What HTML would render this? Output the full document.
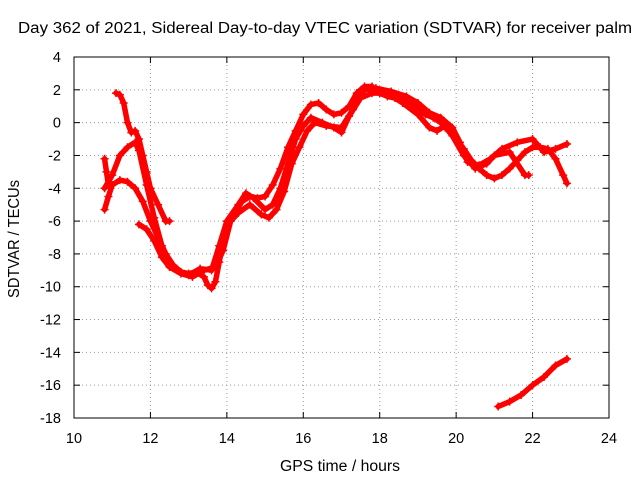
<!DOCTYPE html>
<html><head><meta charset="utf-8"><style>
body{margin:0;background:#fff}
svg text{font-family:"Liberation Sans",sans-serif;font-size:14.5px;fill:#000}
</style></head><body>
<svg width="640" height="480" xmlns="http://www.w3.org/2000/svg">
<rect width="640" height="480" fill="#fff"/>
<g id="grid"></g>
<g id="ticks"></g>
<g id="series"></g>
<rect x="74" y="57" width="535" height="361" fill="none" stroke="#000"/>
<text x="18" y="33" textLength="614" lengthAdjust="spacingAndGlyphs" style="font-size:15.5px">Day 362 of 2021, Sidereal Day-to-day VTEC variation (SDTVAR) for receiver palm</text>
<text x="280" y="471" textLength="120" lengthAdjust="spacingAndGlyphs" style="font-size:15.5px">GPS time / hours</text>
<text x="0" y="0" textLength="118" lengthAdjust="spacingAndGlyphs" style="font-size:15.5px" transform="translate(19 298) rotate(-90)">SDTVAR / TECUs</text>
</svg>
<script>
const xTicks=[10,12,14,16,18,20,22,24];
const yTicks=[4,2,0,-2,-4,-6,-8,-10,-12,-14,-16,-18];
const s1x=[10.8,10.9,11.0,11.2,11.4,11.6,11.8,12.0,12.2,12.4,12.6,12.8,13.0,13.2,13.4,13.5,13.6,13.7,13.8,13.9,14.0,14.2,14.4,14.6,14.8,15.0,15.2,15.4,15.6,15.8,16.0,16.2,16.4,16.6,16.8,17.0,17.2,17.4,17.6,17.8,18.0,18.2,18.4,18.6,18.8,19.0,19.2,19.4,19.6,19.8,20.0,20.2,20.4,20.6,20.8,21.0,21.2,21.4,21.6,21.8,22.0,22.2,22.4,22.6,22.8,22.9];
const s1y=[-5.3,-4.5,-3.8,-3.5,-3.6,-4,-4.8,-6,-7,-8,-8.7,-9.1,-9.2,-9.1,-9.4,-9.9,-10.1,-9.7,-8.5,-7.3,-6.3,-5.5,-4.8,-4.5,-4.6,-4.5,-3.8,-2.8,-1.5,-0.5,0.5,1.1,1.2,0.8,0.5,0.6,1.0,1.8,2.2,2.2,1.8,1.6,1.5,1.5,1.2,0.8,0.5,0.3,0,-0.5,-1,-1.6,-2.3,-2.8,-3.2,-3.4,-3.2,-2.8,-2.3,-1.8,-1.5,-1.5,-1.6,-2.2,-3.2,-3.7];
const s2x=[11.1,11.2,11.3,11.4,11.5,11.6,11.7,11.8,11.9,12.0,12.2,12.4,12.5];
const s2y=[1.8,1.7,1.2,0,-0.6,-0.5,-1,-2,-3,-4,-5,-6,-6];
const s3x=[10.8,11.0,11.2,11.4,11.6,11.7,11.9,12.1,12.3,12.5,12.7,13.0,13.3,13.6,13.8,14.0,14.3,14.5,14.7,15.0,15.2,15.4,15.6,15.8,16.0,16.2,16.5,16.8,17.0,17.2,17.5,17.8,18.2,18.6,19.0,19.3,19.5,19.7,19.9,20.2,20.5,20.8,21.0,21.4,21.8,21.9];
const s3y=[-4,-3.2,-2,-1.5,-1.2,-1.7,-3.8,-5.8,-7.5,-8.5,-9,-9.3,-8.9,-9,-7.5,-6,-5,-4.3,-4.6,-5.3,-5,-4,-2.5,-1,-0.2,0.3,0,-0.3,-0.6,0.4,1.5,1.8,1.8,1.2,0.5,-0.3,-0.5,-0.2,-0.8,-2,-2.8,-2.5,-2,-1.8,-3.2,-3.2];
const s4x=[11.7,11.9,12.1,12.3,12.5,12.8,13.1,13.4,13.7,13.9,14.1,14.3,14.6,14.9,15.1,15.3,15.5,15.7,15.9,16.1,16.3,16.6,17.0,17.3,17.6,17.9,18.3,18.7,19.0,19.3,19.6,19.9,20.1,20.3,20.6,20.9,21.2,21.6,22.0,22.3,22.6,22.9];
const s4y=[-6.2,-6.5,-7.2,-8.2,-8.8,-9.2,-9.4,-9.0,-8.8,-7.8,-6,-5.5,-5,-5.6,-5.8,-5.3,-4.2,-2.5,-1.5,-0.5,0,-0.2,-0.3,0.8,2.0,2.1,1.9,1.6,1.2,0.6,0.3,-0.3,-1.2,-2.4,-2.6,-2.2,-1.6,-1.2,-1,-1.8,-1.6,-1.3];
const s5x=[21.1,21.4,21.7,22.0,22.3,22.6,22.9];
const s5y=[-17.3,-17,-16.6,-16,-15.5,-14.8,-14.4];
const s6x=[10.8,10.85,10.9];
const s6y=[-2.2,-3,-3.8];
const NS='http://www.w3.org/2000/svg';
function X(h){return 74+(h-10)*535/14;}
function Y(v){return 57+(4-v)*361/22;}
function mk(t,a,p){const e=document.createElementNS(NS,t);for(const k in a)e.setAttribute(k,a[k]);p.appendChild(e);return e;}
const grid=document.getElementById('grid'),ticks=document.getElementById('ticks'),ser=document.getElementById('series');
xTicks.forEach(t=>{const x=X(t);
 if(t>10&&t<24){const g=mk('line',{x1:x,x2:x,y1:57,y2:418,stroke:'#999','stroke-dasharray':'1,3'},grid);
 
 }
 mk('line',{x1:x,x2:x,y1:418,y2:412,stroke:'#000'},ticks);mk('line',{x1:x,x2:x,y1:57,y2:63,stroke:'#000'},ticks);
 const l=mk('text',{x:x,y:443,'text-anchor':'middle'},ticks);l.textContent=t;
 
 });
yTicks.forEach(t=>{const y=Y(t);
 if(t<4&&t>-18){const g=mk('line',{x1:74,x2:609,y1:y,y2:y,stroke:'#999','stroke-dasharray':'1,3'},grid);
 
 }
 mk('line',{x1:74,x2:80,y1:y,y2:y,stroke:'#000'},ticks);mk('line',{x1:609,x2:603,y1:y,y2:y,stroke:'#000'},ticks);
 const l=mk('text',{x:61,y:y+5,'text-anchor':'end'},ticks);l.textContent=t;
 
 });
[[s1x,s1y],[s2x,s2y],[s3x,s3y],[s4x,s4y],[s5x,s5y],[s6x,s6y]].forEach((s,i)=>{
 const g=mk('g',{},ser);
 
 
 const pts=s[0].map((h,j)=>X(h)+','+Y(s[1][j])).join(' ');
 mk('polyline',{points:pts,fill:'none',stroke:'#f00','stroke-width':5.5,'stroke-linejoin':'round','stroke-linecap':'round'},g);
 s[0].forEach((h,j)=>{const x=X(h),y=Y(s[1][j]);
  mk('path',{d:`M${x-4},${y}h8M${x},${y-4}v8`,stroke:'#f00','stroke-width':1.5},g);});
});
</script>
</body></html>
